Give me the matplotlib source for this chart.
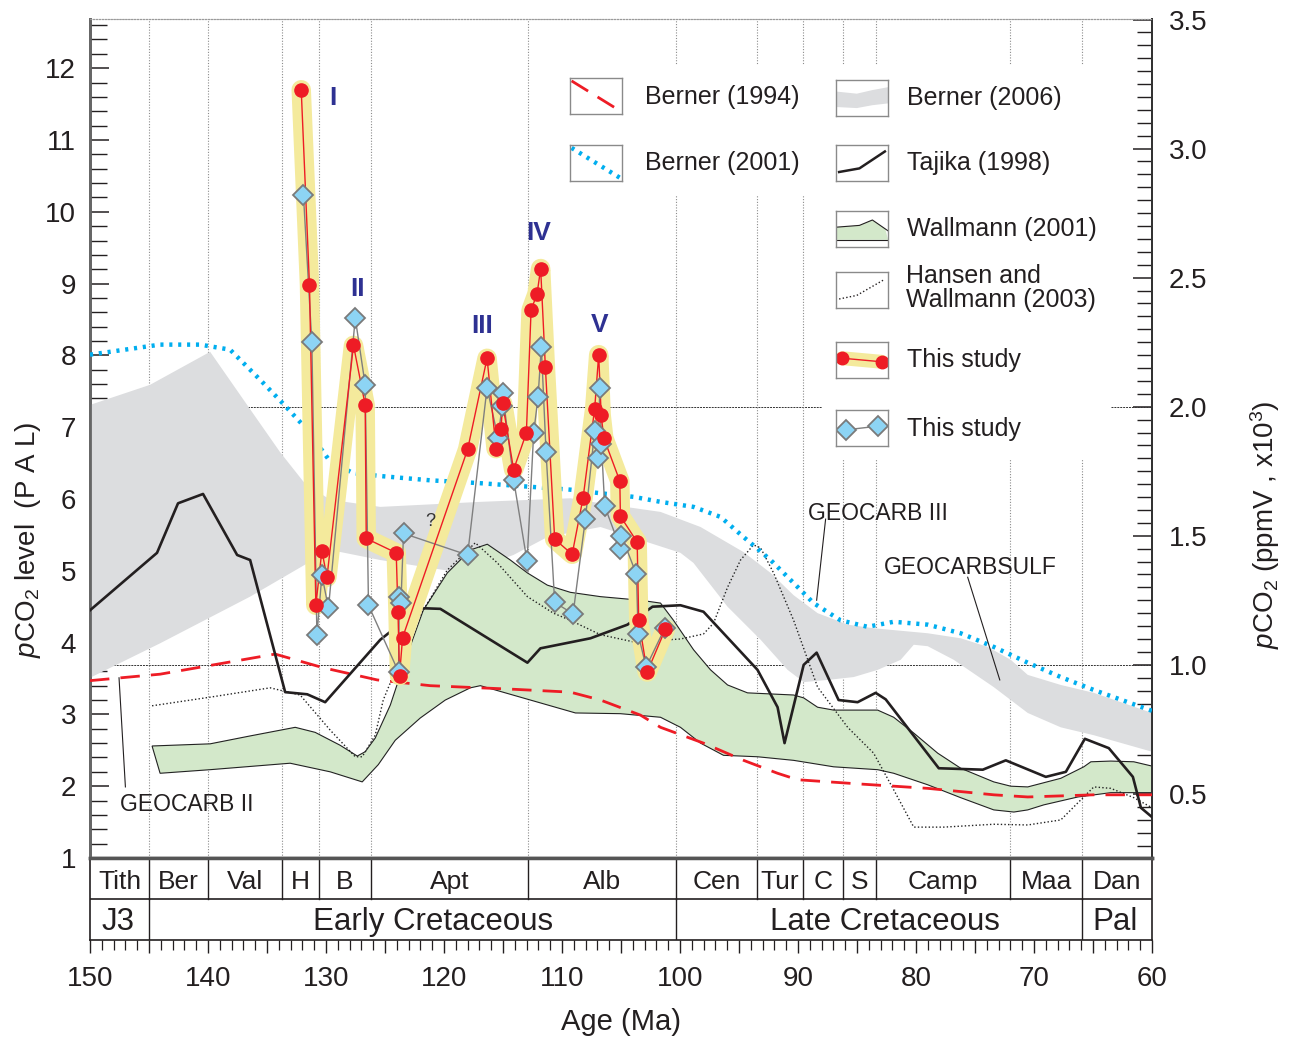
import numpy as np
import matplotlib
matplotlib.use("Agg")
import matplotlib.pyplot as plt
from matplotlib.patches import Rectangle, Polygon
from matplotlib.ticker import MultipleLocator, FixedLocator, FuncFormatter

plt.rcParams['font.family'] = ['Liberation Sans', 'DejaVu Sans']
plt.rcParams['mathtext.fontset'] = 'custom'
plt.rcParams['mathtext.rm'] = 'Liberation Sans'
plt.rcParams['mathtext.it'] = 'Liberation Sans:italic'

# ---------------- data (age in Ma, pCO2 in PAL) ----------------
# This study (red circles)
red_age = [132.1, 131.4, 130.86, 130.35, 129.92, 127.67, 126.68, 126.59, 124.05, 123.9,
           123.77, 123.51, 118.0, 116.35, 115.59, 115.17, 115.03, 114.1, 113.02, 112.62,
           112.11, 111.81, 111.41, 110.62, 109.14, 108.21, 107.23, 106.89, 106.68, 106.46,
           105.1, 105.05, 103.63, 103.5, 102.78, 101.23]
red_pal = [11.70, 8.98, 4.52, 5.28, 4.91, 8.14, 7.31, 5.45, 5.25, 4.43,
           3.54, 4.07, 6.69, 7.96, 6.70, 6.97, 7.33, 6.41, 6.92, 8.63,
           8.86, 9.21, 7.84, 5.44, 5.23, 6.02, 7.26, 8.01, 7.17, 6.85,
           6.25, 5.76, 5.40, 4.31, 3.59, 4.19]

# This study (blue diamonds)
dia_age = [131.91, 131.2, 130.77, 130.35, 129.79, 127.52, 126.68, 126.4, 123.85, 123.79,
           123.65, 123.43, 118.0, 116.35, 115.42, 115.08, 115.03, 114.1, 112.96, 112.4,
           112.03, 111.75, 111.35, 110.62, 109.06, 108.02, 107.23, 106.94, 106.8, 106.66,
           106.38, 105.05, 104.96, 103.69, 103.55, 102.87, 101.29]
dia_pal = [10.23, 8.18, 4.10, 4.94, 4.48, 8.52, 7.59, 4.52, 3.59, 4.63,
           4.55, 5.52, 5.22, 7.55, 6.85, 7.29, 7.47, 6.27, 5.13, 6.92,
           7.42, 8.12, 6.65, 4.56, 4.40, 5.72, 6.95, 6.57, 7.55, 6.77,
           5.90, 5.31, 5.49, 4.95, 4.12, 3.66, 4.20]

# Berner (2006) GEOCARBSULF band
b06_up_age = [150.0, 144.91, 139.82, 136.43, 133.88, 131.76, 129.64, 125.40, 116.92, 109.29,
              106.74, 101.65, 98.26, 94.61, 92.32, 90.37, 88.34, 85.79, 83.59, 79.01,
              76.21, 73.92, 71.97, 70.53, 67.73, 64.93, 60.0]
b06_up_pal = [7.31, 7.59, 8.05, 7.25, 6.65, 6.21, 5.99, 5.89, 5.96, 6.01,
              5.94, 5.82, 5.61, 5.26, 4.97, 4.66, 4.41, 4.25, 4.20, 4.13,
              4.06, 3.94, 3.76, 3.55, 3.41, 3.30, 3.02]
b06_lo_age = [150.0, 144.06, 136.43, 129.64, 125.40, 121.16, 118.36, 114.12, 111.24, 106.74,
              103.35, 99.96, 98.86, 95.97, 93.17, 90.88, 89.52, 87.49, 85.28, 83.25,
              81.30, 80.19, 79.01, 76.80, 73.41, 70.53, 67.73, 64.93, 60.0]
b06_lo_pal = [3.51, 3.99, 4.64, 5.29, 5.15, 5.04, 4.97, 5.22, 5.47, 5.61,
              5.43, 5.25, 5.11, 4.50, 4.04, 3.62, 3.45, 3.48, 3.52, 3.62,
              3.76, 3.97, 3.95, 3.76, 3.38, 3.02, 2.82, 2.71, 2.48]

# Berner (2001) GEOCARB III
b01_age = [150.0, 144.06, 140.67, 138.13, 135.58, 133.88, 131.62, 129.64, 127.69, 125.4,
           121.16, 116.92, 112.68, 109.29, 106.74, 103.94, 101.65, 98.85, 96.56, 94.61,
           92.32, 90.37, 88.68, 86.39, 84.1, 81.89, 79.01, 76.21, 73.41, 70.53,
           67.73, 64.93, 60.0]
b01_pal = [8.01, 8.15, 8.15, 8.08, 7.66, 7.37, 6.97, 6.52, 6.36, 6.32,
           6.26, 6.22, 6.17, 6.13, 6.08, 6.03, 5.96, 5.89, 5.75, 5.47,
           5.15, 4.83, 4.55, 4.31, 4.22, 4.29, 4.25, 4.13, 3.94, 3.72,
           3.52, 3.34, 3.05]

# Berner (1994) GEOCARB II
b94_age = [150.0, 144.06, 134.31, 130.24, 125.66, 121.16, 114.12, 109.29, 106.74, 103.35,
           101.65, 98.01, 94.61, 91.73, 90.03, 84.69, 79.01, 73.41, 70.53, 64.93, 60.0]
b94_pal = [3.47, 3.56, 3.84, 3.65, 3.48, 3.40, 3.35, 3.31, 3.20, 2.99,
           2.82, 2.60, 2.36, 2.18, 2.09, 2.03, 1.97, 1.88, 1.85, 1.88, 1.88]

# Tajika (1998)
taj_age = [150.0, 144.32, 142.54, 140.42, 137.53, 136.43, 133.46, 131.59, 130.07, 125.4,
           122.01, 120.31, 112.93, 111.83, 107.59, 104.45, 102.33, 99.96, 98.01, 93.43,
           91.73, 91.14, 89.52, 88.42, 86.56, 84.95, 83.42, 82.57, 78.07, 74.34,
           72.39, 69.0, 67.3, 65.69, 63.66, 61.62, 60.94, 60.0]
taj_pal = [4.45, 5.25, 5.94, 6.07, 5.22, 5.15, 3.31, 3.28, 3.17, 4.04,
           4.48, 4.47, 3.72, 3.92, 4.06, 4.25, 4.50, 4.52, 4.43, 3.62,
           3.10, 2.60, 3.69, 3.86, 3.20, 3.17, 3.30, 3.21, 2.25, 2.23,
           2.36, 2.13, 2.20, 2.66, 2.53, 2.13, 1.70, 1.57]

# Wallmann (2001) band
wal_up_age = [144.74, 139.82, 136.43, 132.61, 130.92, 128.8, 127.35, 126.68, 125.83, 124.55,
              123.28, 121.76, 119.72, 117.77, 116.33, 114.38, 112.93, 111.24, 109.29, 106.74,
              103.35, 101.65, 100.55, 98.85, 97.41, 95.97, 94.28, 90.37, 89.52, 88.34,
              86.98, 83.25, 81.89, 80.19, 78.16, 76.21, 73.41, 71.97, 70.53, 67.73,
              65.78, 65.18, 63.49, 61.54, 60.0]
wal_up_pal = [2.56, 2.59, 2.70, 2.82, 2.75, 2.57, 2.42, 2.48, 2.67, 3.13,
              3.76, 4.45, 4.97, 5.29, 5.37, 5.15, 4.97, 4.80, 4.70, 4.64,
              4.59, 4.55, 4.31, 3.90, 3.62, 3.41, 3.30, 3.27, 3.23, 3.10,
              3.06, 3.06, 2.96, 2.74, 2.46, 2.25, 2.06, 2.00, 1.99, 2.11,
              2.27, 2.34, 2.35, 2.34, 2.28]
wal_lo_age = [144.06, 139.82, 133.04, 129.64, 126.93, 125.57, 124.13, 122.01, 119.89, 117.77,
              116.92, 113.53, 108.86, 105.05, 101.65, 99.96, 98.26, 96.31, 93.43, 90.37,
              86.98, 83.25, 81.89, 79.01, 76.21, 73.41, 71.71, 70.53, 69.17, 66.28,
              63.49, 60.0]
wal_lo_pal = [2.18, 2.23, 2.32, 2.20, 2.06, 2.30, 2.64, 2.95, 3.20, 3.37,
              3.40, 3.24, 3.02, 3.01, 2.96, 2.82, 2.60, 2.43, 2.41, 2.36,
              2.27, 2.23, 2.18, 2.02, 1.84, 1.67, 1.64, 1.67, 1.74, 1.85,
              1.91, 1.91]

# Hansen and Wallmann (2003)
hw_age = [144.74, 139.82, 134.73, 132.19, 129.64, 127.52, 126.93, 125.83, 125.15, 122.6,
          119.72, 117.35, 115.48, 112.93, 110.73, 109.29, 106.74, 103.94, 99.96, 98.01,
          97.16, 95.97, 94.87, 93.77, 93.17, 92.07, 90.37, 88.34, 85.79, 83.59,
          81.89, 80.19, 77.65, 73.41, 70.53, 67.73, 66.03, 64.93, 63.49, 61.54, 60.0]
hw_pal = [3.12, 3.24, 3.37, 3.27, 2.78, 2.41, 2.41, 2.71, 3.20, 4.22,
          5.01, 5.39, 5.11, 4.64, 4.41, 4.31, 4.11, 4.01, 4.05, 4.12,
          4.27, 4.77, 5.15, 5.36, 5.32, 4.97, 4.31, 3.38, 2.82, 2.46,
          1.95, 1.43, 1.43, 1.47, 1.46, 1.53, 1.81, 1.99, 1.97, 1.84, 1.70]

# Geological time scale
stage_names = ['Tith', 'Ber', 'Val', 'H', 'B', 'Apt', 'Alb', 'Cen', 'Tur', 'C', 'S', 'Camp', 'Maa', 'Dan']
stage_bounds = [150.0, 145.0, 140.0, 133.7, 130.6, 126.2, 112.9, 100.3, 93.5, 89.6, 86.2, 83.4, 72.0, 65.9, 60.0]
epoch_names = ['J3', 'Early Cretaceous', 'Late Cretaceous', 'Pal']
epoch_bounds = [150.0, 145.0, 100.3, 65.9, 60.0]
epoch_label_age = [147.6, 120.9, 82.6, 63.1]

left_ticks = list(range(1, 13))
right_ticks = [0.5, 1.0, 1.5, 2.0, 2.5, 3.0, 3.5]
age_ticks = list(range(60, 151, 5))

# ---------------- figure ----------------
W, H = 1289, 1037
fig = plt.figure(figsize=(W / 100, H / 100), dpi=100)


def frac(x0, y0, x1, y1):
    return [x0 / W, 1 - y1 / H, (x1 - x0) / W, (y1 - y0) / H]


ax = fig.add_axes(frac(90, 19, 1152, 858))
ax.set_xlim(150, 60)
ax.set_ylim(1, 12.685)

C_RED = '#EE1C25'
C_YEL = '#F4EA9C'
C_DIA = '#8DD4F4'
C_GRAY = '#DCDDDF'
C_BLUE = '#00AEEF'
C_GREEN = '#D3E8CA'
C_TXT = '#231F20'

# stage boundary dotted lines
for b in stage_bounds[1:-1]:
    ax.axvline(b, color='#8c8c8c', lw=0.8, ls=(0, (1, 1.5)), zorder=1)

# legend background boxes (white)
ax.add_patch(Rectangle((0.4426, 0.790), 0.2464, 0.155, transform=ax.transAxes,
                       fc='white', ec='none', zorder=1.5))
ax.add_patch(Rectangle((0.689, 0.474), 0.271, 0.471, transform=ax.transAxes,
                       fc='white', ec='none', zorder=1.5))

# Berner 2006 band
poly = list(zip(b06_up_age, b06_up_pal)) + list(zip(b06_lo_age[::-1], b06_lo_pal[::-1]))
ax.add_patch(Polygon(poly, closed=True, fc=C_GRAY, ec='none', zorder=2))

# Wallmann band
poly = list(zip(wal_up_age, wal_up_pal)) + list(zip(wal_lo_age[::-1], wal_lo_pal[::-1]))
ax.add_patch(Polygon(poly, closed=True, fc=C_GREEN, ec='#222222', lw=0.8, zorder=2.5))

# reference lines (1000 ppm and 2000 ppm)
ax2 = ax.twinx()
ax2.set_ylim(0.2517, 3.502)
ax2.axhline(1.0, color='#333333', lw=0.7, ls=(0, (2, 1)), zorder=2.6)
ax2.hlines(2.0, 150, 87.9, color='#333333', lw=0.7, ls=(0, (2, 1)), zorder=2.6)
ax2.hlines(2.0, 63.5, 60, color='#333333', lw=0.7, ls=(0, (2, 1)), zorder=2.6)
ax2.set_zorder(0)
ax.set_zorder(1)
ax.patch.set_visible(False)

# Hansen & Wallmann dotted
ax.plot(hw_age, hw_pal, color='#222222', lw=1.0, ls=(0, (1, 1.6)), zorder=3)
# Berner 1994 dashed
ax.plot(b94_age, b94_pal, color=C_RED, lw=2.0, dashes=(7, 4), zorder=3.2)
# Tajika
ax.plot(taj_age, taj_pal, color=C_TXT, lw=1.9, zorder=3.3)
# Berner 2001 dotted
ax.plot(b01_age, b01_pal, color=C_BLUE, lw=3.2, ls=(0, (0.7, 1.3)), zorder=3.4)

# This study
ax.plot(red_age, red_pal, color=C_YEL, lw=14, solid_joinstyle='round',
        solid_capstyle='round', zorder=4)
ax.plot(dia_age, dia_pal, color='#7f7f7f', lw=1.0, zorder=5)
ax.plot(red_age, red_pal, color=C_RED, lw=1.0, zorder=6)
ax.plot(dia_age, dia_pal, ls='none', marker='D', ms=10.5, mfc=C_DIA, mec='#7a7a7a',
        mew=1.3, zorder=7)
ax.plot(red_age, red_pal, ls='none', marker='o', ms=9.5, mfc=C_RED, mec=C_RED, zorder=8)

# Roman numerals
for txt, xa, ya in [('I', 129.39, 11.59), ('II', 127.35, 8.92), ('III', 116.75, 8.41),
                    ('IV', 112.0, 9.70), ('V', 106.83, 8.42)]:
    ax.text(xa, ya, txt, color='#2E3192', fontsize=19, fontweight='bold',
            ha='center', va='center', zorder=9)

ax.text(121.16, 5.68, '?', fontsize=13, color='#333333', ha='center', va='center', zorder=9)

# annotations
ax.text(147.46, 1.74, 'GEOCARB II', fontsize=16.5, ha='left', va='center', color=C_TXT, zorder=9)
ax.plot([147.0, 147.54], [1.99, 3.51], color=C_TXT, lw=0.8, zorder=9)
ax.text(89.19, 5.80, 'GEOCARB III', fontsize=16.5, ha='left', va='center', color=C_TXT, zorder=9)
ax.plot([87.66, 88.42], [5.72, 4.59], color=C_TXT, lw=0.8, zorder=9)
ax.text(82.74, 5.05, 'GEOCARBSULF', fontsize=16.5, ha='left', va='center', color=C_TXT, zorder=9)
ax.plot([75.62, 72.90], [4.91, 3.48], color=C_TXT, lw=0.8, zorder=9)

# axes styling
ax.set_yticks(left_ticks)
ax.yaxis.set_minor_locator(MultipleLocator(0.2))
ax.tick_params(axis='y', which='major', direction='in', length=14, width=1.1,
               labelsize=20, pad=10, colors=C_TXT)
ax.tick_params(axis='y', which='minor', direction='in', length=12, width=1.0, color=C_TXT)
ax.tick_params(axis='x', which='both', bottom=False, labelbottom=False, top=False)

ax2.set_yticks(right_ticks)
ax2.yaxis.set_major_formatter(FuncFormatter(lambda v, p: f'{v:.1f}'))
ax2.yaxis.set_minor_locator(MultipleLocator(0.05))
ax2.tick_params(axis='y', which='major', direction='in', length=14, width=1.1,
                labelsize=20, pad=12, colors=C_TXT)
ax2.tick_params(axis='y', which='minor', direction='in', length=11, width=1.0, color=C_TXT)

for a in (ax, ax2):
    a.spines['top'].set_color('#9a9a9a')
    a.spines['top'].set_linestyle(':')
    a.spines['left'].set_color('#666666')
    a.spines['left'].set_linewidth(2)
    a.spines['right'].set_color('#333333')
    a.spines['right'].set_linewidth(1.4)
    a.spines['bottom'].set_color('#555555')
    a.spines['bottom'].set_linewidth(2.5)

# ---------------- stage boxes ----------------
sx = fig.add_axes(frac(90, 858, 1152, 940))
sx.set_xlim(150, 60)
sx.set_ylim(0, 2)
sx.axhline(1, color=C_TXT, lw=1.2)
for b in stage_bounds[1:-1]:
    sx.plot([b, b], [1, 2], color=C_TXT, lw=1.0)
for b in epoch_bounds[1:-1]:
    sx.plot([b, b], [0, 1], color=C_TXT, lw=1.0)
for i, name in enumerate(stage_names):
    mid = 0.5 * (stage_bounds[i] + stage_bounds[i + 1])
    sx.text(mid, 1.42, name, ha='center', va='center', fontsize=19, color=C_TXT)
for name, xa in zip(epoch_names, epoch_label_age):
    sx.text(xa, 0.45, name, ha='center', va='center', fontsize=22.5, color=C_TXT)
sx.set_yticks([])
sx.set_xticks(age_ticks)
sx.xaxis.set_minor_locator(MultipleLocator(1))
sx.xaxis.set_major_formatter(FuncFormatter(lambda v, p: f'{int(round(v))}' if int(round(v)) % 10 == 0 else ''))
sx.tick_params(axis='x', which='major', direction='out', length=9, width=1.0, labelsize=20, pad=10,
               colors=C_TXT)
sx.tick_params(axis='x', which='minor', direction='out', length=7, width=0.9, color=C_TXT)
for s in ('left', 'right', 'bottom'):
    sx.spines[s].set_color(C_TXT)
    sx.spines[s].set_linewidth(1.2)
sx.spines['top'].set_visible(False)
sx.set_xlabel('Age (Ma)', fontsize=21, labelpad=11, color=C_TXT)

# y labels
fig.text(28 / W, 1 - 540 / H, r'$\mathit{p}$CO$_2$ level  (P A L)', rotation=90,
         ha='center', va='center', fontsize=20, color=C_TXT)
fig.text(1265 / W, 1 - 525 / H, r'$\mathit{p}$CO$_2$ (ppmV , x10$^3$)', rotation=90,
         ha='center', va='center', fontsize=20, color=C_TXT)

# ---------------- legend ----------------
def hbox(x0, y0):
    h = fig.add_axes(frac(x0, y0, x0 + 52, y0 + 36))
    h.set_zorder(10)
    h.set_xlim(0, 1)
    h.set_ylim(0, 1)
    h.set_xticks([])
    h.set_yticks([])
    for s in h.spines.values():
        s.set_color('#8a8a8a')
        s.set_linewidth(1.0)
    h.patch.set_facecolor('white')
    return h


h = hbox(570, 78)
h.plot([0.03, 0.97], [0.92, 0.08], color=C_RED, lw=2.0, dashes=(7, 4))
fig.text(645 / W, 1 - 97 / H, 'Berner (1994)', fontsize=18, va='center', color=C_TXT)

h = hbox(570, 145)
h.plot([0.03, 0.97], [0.92, 0.08], color=C_BLUE, lw=3.2, ls=(0, (0.7, 1.3)))
fig.text(645 / W, 1 - 163 / H, 'Berner (2001)', fontsize=18, va='center', color=C_TXT)

h = hbox(836, 80)
h.add_patch(Polygon([(0.0, 0.68), (0.4, 0.62), (0.7, 0.72), (1.0, 0.8), (1.0, 0.35),
                     (0.7, 0.3), (0.4, 0.22), (0.0, 0.25)], closed=True, fc=C_GRAY, ec='none'))
fig.text(907 / W, 1 - 98 / H, 'Berner (2006)', fontsize=18, va='center', color=C_TXT)

h = hbox(836, 145)
h.plot([0.06, 0.45, 0.94], [0.25, 0.35, 0.82], color=C_TXT, lw=1.8)
fig.text(907 / W, 1 - 163 / H, 'Tajika (1998)', fontsize=18, va='center', color=C_TXT)

h = hbox(836, 211)
h.add_patch(Polygon([(0.0, 0.55), (0.45, 0.6), (0.7, 0.75), (0.95, 0.5), (1.0, 0.2),
                     (0.0, 0.2)], closed=True, fc=C_GREEN, ec='none'))
h.plot([0.0, 0.45, 0.7, 0.95, 1.0], [0.55, 0.6, 0.75, 0.5, 0.45], color=C_TXT, lw=0.8)
h.plot([0.0, 1.0], [0.2, 0.2], color=C_TXT, lw=0.8)
fig.text(907 / W, 1 - 229 / H, 'Wallmann (2001)', fontsize=18, va='center', color=C_TXT)

h = hbox(836, 272)
h.plot([0.06, 0.4, 0.94], [0.25, 0.35, 0.8], color=C_TXT, lw=1.0, ls=(0, (1, 1.6)))
fig.text(906 / W, 1 - 288 / H, 'Hansen and\nWallmann (2003)', fontsize=18, va='center',
         color=C_TXT, linespacing=0.95)

h = hbox(836, 342)
h.plot([0.12, 0.88], [0.55, 0.45], color=C_YEL, lw=10, solid_capstyle='round')
h.plot([0.12, 0.88], [0.55, 0.45], color=C_RED, lw=1.0)
h.plot([0.12, 0.88], [0.55, 0.45], ls='none', marker='o', ms=9, color=C_RED)
fig.text(907 / W, 1 - 360 / H, 'This study', fontsize=18, va='center', color=C_TXT)

h = hbox(836, 410)
h.plot([0.2, 0.8], [0.45, 0.55], color='#7f7f7f', lw=1.0)
h.plot([0.2, 0.8], [0.45, 0.55], ls='none', marker='D', ms=10, mfc=C_DIA, mec='#7a7a7a', mew=1.3)
fig.text(907 / W, 1 - 429 / H, 'This study', fontsize=18, va='center', color=C_TXT)

fig.savefig('out.png', dpi=100)
